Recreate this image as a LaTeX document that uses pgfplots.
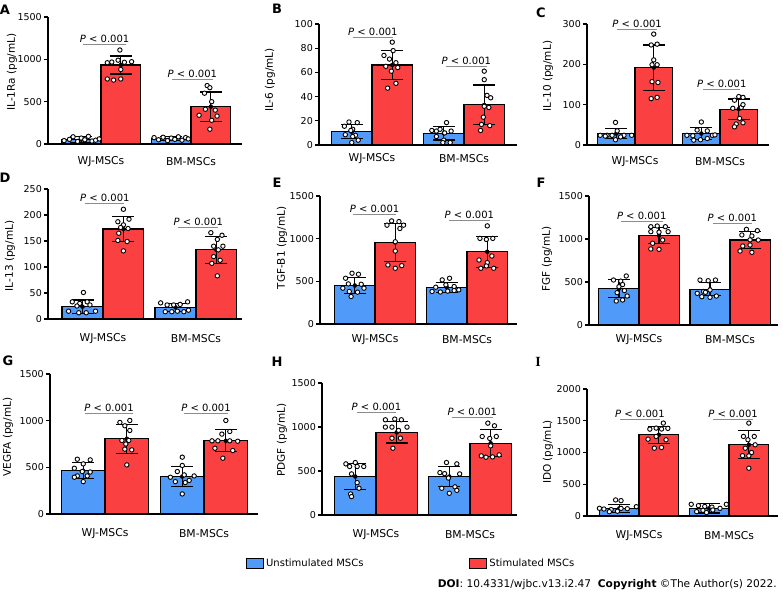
\documentclass[border=0pt]{standalone}
\usepackage{fontspec}
\setmainfont{DejaVu Sans}
\newfontfamily\serifbold{Liberation Serif}
\usepackage{pgfplots}
\pgfplotsset{compat=1.18}
\definecolor{myblue}{RGB}{80,155,250}
\definecolor{myred}{RGB}{250,64,64}
\definecolor{pline}{RGB}{140,140,140}
\tikzset{ptx/.style={font=\fontsize{10}{12}\selectfont, anchor=south, inner sep=1pt}}
\pgfplotsset{
  panel/.style={
    scale only axis, clip=false,
    axis x line=bottom, axis y line=left,
    axis line style={-, line width=1.1pt, black},
    ymin=0,
    xtick={1,2}, xticklabels={WJ-MSCs,BM-MSCs},
    xtick style={draw=none},
    ytick style={line width=1.1pt, black},
    tick align=outside, major tick length=4pt,
    yticklabel style={font=\fontsize{9.5}{11}\selectfont, inner sep=2pt},
    xticklabel style={font=\fontsize{10.8}{13}\selectfont, anchor=center},
    ylabel style={font=\fontsize{10.5}{12}\selectfont, anchor=center},
    /pgf/number format/assume math mode=true,
    /pgf/number format/1000 sep={},
    scaled y ticks=false,
  },
  ylab/.style 2 args={ylabel style={at={(rel axis cs:0,#1)}, yshift=#2}},
  xlab/.style={xticklabel style={yshift=#1}},
  bl/.style={ybar, bar width=0.44, bar shift=0pt, fill=myblue, draw=black, line width=1.1pt},
  rd/.style={ybar, bar width=0.44, bar shift=0pt, fill=myred, draw=black, line width=1.1pt},
  eb/.style={only marks, mark=none, forget plot, error bars/.cd, y dir=both, y explicit,
     error bar style={line width=1.1pt, black},
     error mark options={rotate=90, mark size=11pt, line width=1.1pt, black}},
  pts/.style={only marks, forget plot, mark=*, mark size=2.2pt, mark options={fill=white, draw=black, line width=0.9pt}},
  pl/.style={pline, line width=0.8pt, forget plot},
}
\newcommand{\ptext}{\textit{P} < 0.001}
\begin{document}
\begin{tikzpicture}
\path[use as bounding box] (0,0) rectangle (783pt,591pt);

% ---------- A ----------
\begin{axis}[panel, at={(48pt,447pt)}, anchor=south west, width=194pt, height=127pt,
  xmin=0.411, xmax=2.567, ymax=1500, ytick={0,500,1000,1500},
  ylabel={IL-1Ra (pg/mL)}, ylab={0.567}{36pt}, xlab=-14pt]
\addplot[bl] coordinates {(0.78,55) (1.78,67)};
\addplot[rd] coordinates {(1.22,933) (2.22,441)};
\addplot[eb] coordinates {(0.78,55) +- (0,35) (1.22,933) +- (0,106) (1.78,67) +- (0,22) (2.22,441) +- (0,173)};
\addplot[pts] coordinates {(0.59,40) (0.65,55) (0.69,85) (0.74,30) (0.78,70) (0.82,50) (0.86,90) (0.90,35) (0.94,45) (0.98,60)};
\addplot[pts] coordinates {(1.21,1110) (1.07,960) (1.12,968) (1.19,990) (1.26,965) (1.34,972) (1.22,880) (1.07,768) (1.14,755) (1.22,768)};
\addplot[pts] coordinates {(1.59,75) (1.64,50) (1.69,80) (1.74,40) (1.78,70) (1.82,55) (1.86,85) (1.90,45) (1.94,75) (1.97,60)};
\addplot[pts] coordinates {(2.18,690) (2.21,665) (2.15,600) (2.23,500) (2.16,410) (2.27,400) (2.09,340) (2.29,330) (2.23,280) (2.21,175)};
\addplot[pl] coordinates {(0.80,1181) (1.28,1181)};
\addplot[pl] coordinates {(1.79,768) (2.24,768)};
\node[ptx] at (axis cs:1.04,1181) {\ptext};
\node[ptx] at (axis cs:2.015,768) {\ptext};
\end{axis}

% ---------- B ----------
\begin{axis}[panel, at={(319pt,446pt)}, anchor=south west, width=198pt, height=121pt,
  xmin=0.424, xmax=2.576, ymax=100, ytick={0,20,40,60,80,100},
  ylabel={IL-6 (pg/mL)}, ylab={0.537}{49pt}, xlab=-10pt]
\addplot[bl] coordinates {(0.78,11.0) (1.78,9.6)};
\addplot[rd] coordinates {(1.22,66.1) (2.22,33.1)};
\addplot[eb] coordinates {(0.78,11.0) +- (0,5.8) (1.22,66.1) +- (0,11.9) (1.78,9.6) +- (0,5.5) (2.22,33.1) +- (0,16.5)};
\addplot[pts] coordinates {(0.75,19) (0.84,18.5) (0.70,15.5) (0.79,13) (0.77,12) (0.71,8.5) (0.82,8) (0.79,7) (0.85,4) (0.78,2)};
\addplot[pts] coordinates {(1.22,85) (1.13,74) (1.23,78) (1.19,71) (1.26,68) (1.15,65) (1.28,64) (1.21,61) (1.26,51) (1.17,47)};
\addplot[pts] coordinates {(1.81,18.5) (1.65,12) (1.70,11.5) (1.74,13) (1.86,11.5) (1.79,10) (1.70,7) (1.78,4) (1.77,2) (1.85,2)};
\addplot[pts] coordinates {(2.22,61) (2.22,54) (2.25,41) (2.29,39) (2.22,32) (2.27,31) (2.21,23) (2.19,17) (2.28,16) (2.18,12)};
\addplot[pl] coordinates {(0.79,89.3) (1.23,89.3)};
\addplot[pl] coordinates {(1.80,65.3) (2.25,65.3)};
\node[ptx] at (axis cs:1.01,89.3) {\ptext};
\node[ptx] at (axis cs:2.025,65.3) {\ptext};
\end{axis}

% ---------- C ----------
\begin{axis}[panel, at={(587pt,446pt)}, anchor=south west, width=182pt, height=121pt,
  xmin=0.435, xmax=2.576, ymax=300, ytick={0,100,200,300},
  ylabel={IL-10 (pg/mL)}, ylab={0.570}{39pt}, xlab=-13pt]
\addplot[bl] coordinates {(0.78,28.3) (1.78,28.3)};
\addplot[rd] coordinates {(1.22,192) (2.22,89)};
\addplot[eb] coordinates {(0.78,28.3) +- (0,12.4) (1.22,192) +- (0,56) (1.78,28.3) +- (0,14.4) (2.22,89) +- (0,25)};
\addplot[pts] coordinates {(0.77,56) (0.79,35) (0.59,24) (0.67,24) (0.73,24) (0.87,24) (0.96,24) (0.77,13) (0.83,20) (0.65,22)};
\addplot[pts] coordinates {(1.22,275) (1.26,250) (1.19,248) (1.22,211) (1.20,199) (1.26,199) (1.20,157) (1.27,155) (1.19,115) (1.26,118)};
\addplot[pts] coordinates {(1.78,57) (1.61,24) (1.68,23) (1.73,37) (1.85,35) (1.91,24) (1.94,25) (1.77,13) (1.69,12) (1.85,16)};
\addplot[pts] coordinates {(2.22,120) (2.27,118) (2.17,111) (2.15,91) (2.25,93) (2.27,100) (2.23,66) (2.19,52) (2.27,55) (2.17,45)};
\addplot[pl] coordinates {(0.79,287.6) (1.26,287.6)};
\addplot[pl] coordinates {(1.80,138.8) (2.24,138.8)};
\node[ptx] at (axis cs:1.025,287.6) {\ptext};
\node[ptx] at (axis cs:2.02,138.8) {\ptext};
\end{axis}

% ---------- D ----------
\begin{axis}[panel, at={(48pt,272pt)}, anchor=south west, width=194pt, height=130pt,
  xmin=0.409, xmax=2.495, ymax=250, ytick={0,50,100,150,200,250},
  ylabel={IL-13 (pg/mL)}, ylab={0.485}{38pt}, xlab=-16pt]
\addplot[bl] coordinates {(0.78,23.7) (1.78,22.4)};
\addplot[rd] coordinates {(1.22,173) (2.22,133)};
\addplot[eb] coordinates {(0.78,23.7) +- (0,12.8) (1.22,173) +- (0,24) (1.78,22.4) +- (0,8) (2.22,133) +- (0,26)};
\addplot[pts] coordinates {(0.79,51) (0.67,33) (0.75,30) (0.83,33) (0.72,25) (0.86,27) (0.63,15) (0.74,12) (0.82,12) (0.92,15)};
\addplot[pts] coordinates {(1.22,211) (1.16,187) (1.28,192) (1.22,181) (1.19,176) (1.27,174) (1.17,165) (1.26,149) (1.16,151) (1.22,131)};
\addplot[pts] coordinates {(1.62,31) (1.69,27) (1.76,27) (1.83,28) (1.91,33) (1.67,14) (1.74,14) (1.80,15) (1.87,14) (1.92,17)};
\addplot[pts] coordinates {(2.16,166) (2.28,161) (2.23,153) (2.19,140) (2.29,140) (2.24,133) (2.19,120) (2.26,113) (2.17,107) (2.23,83)};
\addplot[pl] coordinates {(0.81,223) (1.23,223)};
\addplot[pl] coordinates {(1.81,177) (2.24,177)};
\node[ptx] at (axis cs:1.02,223) {\ptext};
\node[ptx] at (axis cs:2.025,177) {\ptext};
\end{axis}

% ---------- E ----------
\begin{axis}[panel, at={(320pt,267pt)}, anchor=south west, width=197pt, height=128pt,
  xmin=0.402, xmax=2.543, ymax=1500, ytick={0,500,1000,1500},
  ylabel={TGF-B1 (pg/mL)}, ylab={0.594}{38pt}, xlab=-12pt]
\addplot[bl] coordinates {(0.78,451) (1.78,431)};
\addplot[rd] coordinates {(1.22,956) (2.22,847)};
\addplot[eb] coordinates {(0.78,451) +- (0,92) (1.22,956) +- (0,220) (1.78,431) +- (0,58) (2.22,847) +- (0,181)};
\addplot[pts] coordinates {(0.75,595) (0.82,583) (0.68,536) (0.71,470) (0.85,466) (0.65,420) (0.88,420) (0.72,381) (0.81,373) (0.74,322)};
\addplot[pts] coordinates {(1.13,1158) (1.26,1200) (1.31,1158) (1.18,1208) (1.27,1119) (1.22,964) (1.22,855) (1.14,692) (1.22,653) (1.29,684)};
\addplot[pts] coordinates {(1.81,536) (1.73,517) (1.66,431) (1.86,439) (1.77,459) (1.62,381) (1.71,375) (1.79,385) (1.86,392) (1.91,400)};
\addplot[pts] coordinates {(2.22,1150) (2.14,1003) (2.21,991) (2.28,1003) (2.13,750) (2.27,797) (2.22,719) (2.15,653) (2.21,680) (2.29,653)};
\addplot[pl] coordinates {(0.76,1289) (1.23,1289)};
\addplot[pl] coordinates {(1.80,1219) (2.25,1219)};
\node[ptx] at (axis cs:0.995,1289) {\ptext};
\node[ptx] at (axis cs:2.025,1219) {\ptext};
\end{axis}

% ---------- F ----------
\begin{axis}[panel, at={(589pt,266pt)}, anchor=south west, width=189pt, height=129pt,
  xmin=0.451, xmax=2.527, ymax=1500, ytick={0,500,1000,1500},
  ylabel={FGF (pg/mL)}, ylab={0.512}{42pt}, xlab=-11pt]
\addplot[bl] coordinates {(0.78,426) (1.78,415)};
\addplot[rd] coordinates {(1.22,1039) (2.22,988)};
\addplot[eb] coordinates {(0.78,426) +- (0,105) (1.22,1039) +- (0,93) (1.78,415) +- (0,74) (2.22,988) +- (0,94)};
\addplot[pts] coordinates {(0.72,523) (0.80,510) (0.86,570) (0.78,446) (0.82,470) (0.76,376) (0.87,337) (0.75,279) (0.82,291) (0.84,400)};
\addplot[pts] coordinates {(1.13,1143) (1.20,1151) (1.29,1143) (1.13,1085) (1.22,1080) (1.32,1085) (1.26,988) (1.15,950) (1.13,884) (1.22,880)};
\addplot[pts] coordinates {(1.67,523) (1.76,515) (1.84,523) (1.71,390) (1.78,407) (1.64,368) (1.69,329) (1.78,322) (1.85,337) (1.73,380)};
\addplot[pts] coordinates {(2.18,1112) (2.30,1097) (2.13,1047) (2.24,1035) (2.22,990) (2.31,988) (2.14,918) (2.22,930) (2.11,860) (2.24,845)};
\addplot[pl] coordinates {(0.80,1209) (1.26,1209)};
\addplot[pl] coordinates {(1.81,1186) (2.24,1186)};
\node[ptx] at (axis cs:1.03,1209) {\ptext};
\node[ptx] at (axis cs:2.025,1186) {\ptext};
\end{axis}

% ---------- G ----------
\begin{axis}[panel, at={(50pt,77pt)}, anchor=south west, width=208pt, height=140pt,
  xmin=0.444, xmax=2.545, ymax=1500, ytick={0,500,1000,1500},
  ylabel={VEGFA (pg/mL)}, ylab={0.55}{42pt}, xlab=-16pt]
\addplot[bl] coordinates {(0.78,462) (1.78,401)};
\addplot[rd] coordinates {(1.22,806) (2.22,784)};
\addplot[eb] coordinates {(0.78,462) +- (0,86) (1.22,806) +- (0,156) (1.78,401) +- (0,107) (2.22,784) +- (0,117)};
\addplot[pts] coordinates {(0.72,587) (0.85,580) (0.78,537) (0.69,490) (0.77,455) (0.85,450) (0.72,408) (0.82,408) (0.78,347) (0.69,394)};
\addplot[pts] coordinates {(1.15,981) (1.25,1002) (1.20,945) (1.25,895) (1.17,788) (1.24,788) (1.21,750) (1.20,695) (1.27,687) (1.22,526)};
\addplot[pts] coordinates {(1.78,609) (1.78,520) (1.73,455) (1.66,394) (1.80,419) (1.90,408) (1.71,347) (1.81,337) (1.78,215) (1.85,360)};
\addplot[pts] coordinates {(2.22,1002) (2.18,856) (2.26,884) (2.08,784) (2.14,784) (2.26,784) (2.34,780) (2.11,705) (2.19,598) (2.29,680)};
\addplot[pl] coordinates {(0.80,1082) (1.28,1082)};
\addplot[pl] coordinates {(1.80,1082) (2.24,1082)};
\node[ptx] at (axis cs:1.04,1082) {\ptext};
\node[ptx] at (axis cs:2.02,1082) {\ptext};
\end{axis}

% ---------- H ----------
\begin{axis}[panel, at={(322pt,76pt)}, anchor=south west, width=195pt, height=132pt,
  xmin=0.426, xmax=2.5, ymax=1500, ytick={0,500,1000,1500},
  ylabel={PDGF (pg/mL)}, ylab={0.568}{40pt}, xlab=-16pt,
  legend columns=2,
  legend style={draw=none, fill=none, at={(-0.390,-0.364)}, anchor=west,
    font=\fontsize{10}{12}\selectfont, inner sep=0pt,
    /tikz/every even column/.append style={column sep=104pt}},
  legend cell align=left,
  legend image code/.code={\draw[#1, line width=1pt] (0pt,-5pt) rectangle (17pt,5pt);}]
\addplot[bl] coordinates {(0.78,437) (1.78,437)};
\addplot[rd] coordinates {(1.22,938) (2.22,816)};
\addplot[eb] coordinates {(0.78,437) +- (0,145) (1.22,938) +- (0,120) (1.78,437) +- (0,114) (2.22,816) +- (0,156)};
\addplot[pts] coordinates {(0.68,581) (0.78,596) (0.72,551) (0.80,551) (0.87,551) (0.74,467) (0.80,368) (0.82,304) (0.73,239) (0.74,209)};
\addplot[pts] coordinates {(1.10,1082) (1.20,1090) (1.27,1082) (1.10,999) (1.17,999) (1.24,961) (1.33,999) (1.17,873) (1.26,873) (1.18,759)};
\addplot[pts] coordinates {(1.75,596) (1.86,581) (1.68,482) (1.73,470) (1.89,467) (1.77,420) (1.70,304) (1.84,320) (1.78,247) (1.86,280)};
\addplot[pts] coordinates {(2.19,1044) (2.26,1014) (2.13,892) (2.28,892) (2.21,870) (2.22,786) (2.12,672) (2.17,657) (2.24,660) (2.31,683)};
\addplot[pl] coordinates {(0.80,1170) (1.21,1170)};
\addplot[pl] coordinates {(1.81,1114) (2.24,1114)};
\node[ptx] at (axis cs:1.005,1170) {\ptext};
\node[ptx] at (axis cs:2.025,1114) {\ptext};
\legend{Unstimulated MSCs, Stimulated MSCs}
\end{axis}

% ---------- I ----------
\begin{axis}[panel, at={(587pt,75pt)}, anchor=south west, width=191pt, height=127pt,
  xmin=0.422, xmax=2.544, ymax=2000, ytick={0,500,1000,1500,2000},
  ylabel={IDO (pg/mL)}, ylab={0.504}{39pt}, xlab=-16pt]
\addplot[bl] coordinates {(0.78,121) (1.78,121)};
\addplot[rd] coordinates {(1.22,1279) (2.22,1121)};
\addplot[eb] coordinates {(0.78,121) +- (0,60) (1.22,1279) +- (0,137) (1.78,121) +- (0,73) (2.22,1121) +- (0,219)};
\addplot[pts] coordinates {(0.74,253) (0.80,242) (0.56,121) (0.61,110) (0.69,100) (0.80,120) (0.87,115) (0.97,147) (0.67,68) (0.76,75)};
\addplot[pts] coordinates {(1.27,1463) (1.12,1368) (1.19,1384) (1.25,1370) (1.32,1380) (1.10,1210) (1.19,1253) (1.30,1200) (1.17,1068) (1.25,1079)};
\addplot[pts] coordinates {(1.58,184) (1.66,163) (1.73,150) (1.81,140) (1.97,184) (1.71,90) (1.64,68) (1.75,55) (1.82,95) (1.90,121)};
\addplot[pts] coordinates {(2.22,1463) (2.16,1253) (2.28,1253) (2.21,1200) (2.29,1121) (2.18,1068) (2.25,1000) (2.22,947) (2.15,950) (2.22,753)};
\addplot[pl] coordinates {(0.79,1528) (1.23,1528)};
\addplot[pl] coordinates {(1.82,1528) (2.27,1528)};
\node[ptx] at (axis cs:1.01,1528) {\ptext};
\node[ptx] at (axis cs:2.045,1528) {\ptext};
\end{axis}

% panel letters
\begin{scope}[every node/.style={font=\bfseries\fontsize{13}{15}\selectfont, inner sep=0pt}]
\node at (5pt,581pt) {A};
\node at (277pt,582pt) {B};
\node at (541pt,578pt) {C};
\node at (5pt,413pt) {D};
\node at (277pt,408pt) {E};
\node at (541pt,408pt) {F};
\node at (8pt,230pt) {G};
\node at (277pt,229pt) {H};
\node[font=\serifbold\bfseries\fontsize{14}{16}\selectfont] at (538pt,229pt) {I};
\end{scope}

\node[anchor=base east, inner sep=0pt, font=\fontsize{10.6}{12}\selectfont] at (777pt,3.5pt)
  {\textbf{DOI}: 10.4331/wjbc.v13.i2.47\ \ \textbf{Copyright} ©The Author(s) 2022.};
\end{tikzpicture}
\end{document}
